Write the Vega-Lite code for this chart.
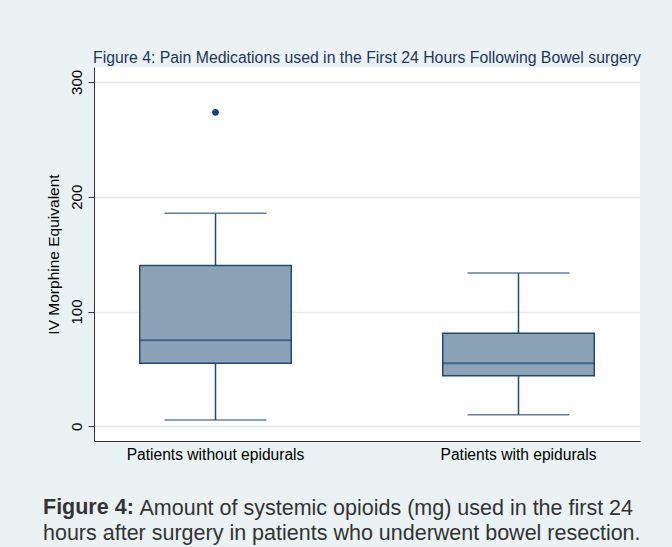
{
  "$schema": "https://vega.github.io/schema/vega-lite/v6.json",
  "autosize": {"type": "pad"},
  "padding": {"left": 43, "top": 50, "right": 31, "bottom": 5},
  "background": "#eaf2f3",
  "config": {
    "font": "Liberation Sans, Arial, sans-serif",
    "view": {"fill": "white", "stroke": null},
    "concat": {"spacing": 0}
  },
  "datasets": {
    "boxes": [
      {"group": "Patients without epidurals", "lower": 5.5, "q1": 55, "median": 75, "q3": 140, "upper": 185.5},
      {"group": "Patients with epidurals", "lower": 10, "q1": 44, "median": 55, "q3": 81, "upper": 133.5}
    ],
    "outliers": [
      {"group": "Patients without epidurals", "value": 273.5}
    ]
  },
  "title": {
    "text": "Figure 4:",
    "subtitle": "hours after surgery in patients who underwent bowel resection.",
    "orient": "bottom",
    "anchor": "start",
    "frame": "bounds",
    "dx": -3,
    "fontSize": 21.5,
    "fontWeight": "bold",
    "color": "#333333",
    "subtitleFontSize": 21.5,
    "subtitleFontWeight": "normal",
    "subtitleColor": "#333333",
    "subtitlePadding": 4,
    "offset": -21.5
  },
  "vconcat": [
    {
      "width": 546,
      "height": 374,
      "title": {
        "text": "Figure 4: Pain Medications used in the First 24 Hours Following Bowel surgery",
        "fontSize": 15.8,
        "fontWeight": "normal",
        "color": "#1e3560",
        "anchor": "middle",
        "offset": 0
      },
      "layer": [
        {
          "data": {"name": "boxes"},
          "mark": {"type": "rule", "color": "#1f4a73", "strokeWidth": 1.5},
          "encoding": {
            "x": {
              "field": "group", "type": "nominal",
              "sort": ["Patients without epidurals", "Patients with epidurals"],
              "scale": {"paddingInner": 0.5, "paddingOuter": 0.151},
              "axis": {
                "title": "Amount of systemic opioids (mg) used in the first 24",
                "titleFontSize": 21.5,
                "titleFontWeight": "normal",
                "titleColor": "#333333",
                "titleX": 45,
                "titleY": 73,
                "titleAlign": "left",
                "titleBaseline": "alphabetic",
                "labelAngle": 0,
                "labelFontSize": 15.6,
                "labelColor": "#000000",
                "labelPadding": 6,
                "labelBaseline": "top",
                "ticks": false,
                "domainColor": "#333333",
                "grid": false
              }
            },
            "y": {
              "field": "lower", "type": "quantitative",
              "scale": {"domain": [-12.8, 313], "nice": false, "zero": false},
              "axis": {
                "title": "IV Morphine Equivalent",
                "values": [0, 100, 200, 300],
                "labelAngle": 270,
                "labelAlign": "center",
                "labelBaseline": "bottom",
                "labelFontSize": 15,
                "labelColor": "#000000",
                "labelPadding": 4,
                "tickSize": 6,
                "tickColor": "#333333",
                "domainColor": "#333333",
                "grid": true,
                "gridColor": "#e4ecee",
                "gridWidth": 1.3,
                "titleFontSize": 15.5,
                "titleFontWeight": "normal",
                "titleColor": "#000000",
                "titlePadding": 8
              }
            },
            "y2": {"field": "upper"}
          }
        },
        {
          "data": {"name": "boxes"},
          "mark": {"type": "tick", "color": "#1f4a73", "thickness": 1.5, "size": 102},
          "encoding": {
            "x": {"field": "group", "type": "nominal", "sort": ["Patients without epidurals", "Patients with epidurals"]},
            "y": {"field": "lower", "type": "quantitative"}
          }
        },
        {
          "data": {"name": "boxes"},
          "mark": {"type": "tick", "color": "#1f4a73", "thickness": 1.5, "size": 102},
          "encoding": {
            "x": {"field": "group", "type": "nominal", "sort": ["Patients without epidurals", "Patients with epidurals"]},
            "y": {"field": "upper", "type": "quantitative"}
          }
        },
        {
          "data": {"name": "boxes"},
          "mark": {"type": "bar", "fill": "#8ca3b7", "stroke": "#1f4a73", "strokeWidth": 1.5},
          "encoding": {
            "x": {"field": "group", "type": "nominal", "sort": ["Patients without epidurals", "Patients with epidurals"]},
            "y": {"field": "q1", "type": "quantitative"},
            "y2": {"field": "q3"}
          }
        },
        {
          "data": {"name": "boxes"},
          "mark": {"type": "tick", "color": "#1f4a73", "thickness": 2, "size": 151.5},
          "encoding": {
            "x": {"field": "group", "type": "nominal", "sort": ["Patients without epidurals", "Patients with epidurals"]},
            "y": {"field": "median", "type": "quantitative"}
          }
        },
        {
          "data": {"name": "outliers"},
          "mark": {"type": "point", "filled": true, "color": "#1a476f", "size": 45, "opacity": 1},
          "encoding": {
            "x": {"field": "group", "type": "nominal", "sort": ["Patients without epidurals", "Patients with epidurals"]},
            "y": {"field": "value", "type": "quantitative"}
          }
        }
      ]
    }
  ]
}
